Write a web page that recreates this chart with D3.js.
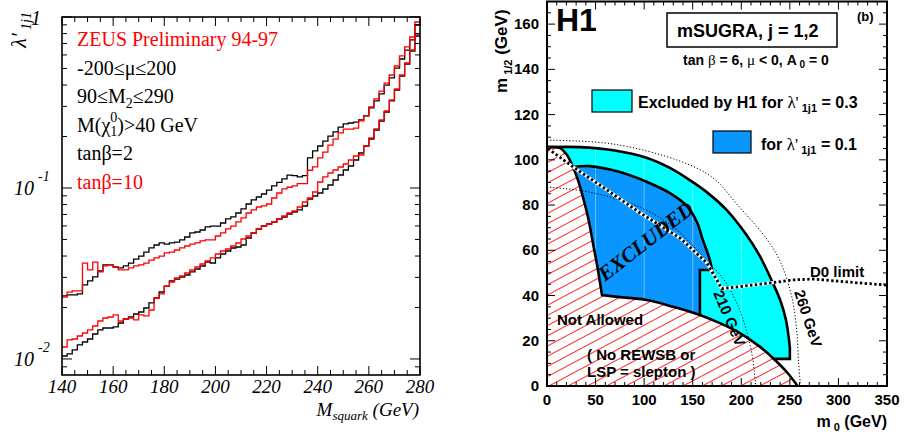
<!DOCTYPE html>
<html><head><meta charset="utf-8">
<script src="https://cdn.jsdelivr.net/npm/d3@7"></script>
<style>body{margin:0;background:#fff}svg{display:block}</style>
</head><body>
<svg id="c" width="904" height="436"></svg>
<script>
// ---------------- DATA: left panel (ZEUS) ----------------
const massBinStart = 140, massBinWidth = 2, massMax = 280;
const xTicksLeft = [140,160,180,200,220,240,260,280];
// lambda'_1j1 upper limits per 2 GeV squark-mass bin
const tb2Upper = [0.0234,0.0237,0.0237,0.0240,0.0271,0.0286,0.0302,0.0327,0.0355,0.0355,
 0.0345,0.0341,0.0350,0.0364,0.0384,0.0400,0.0422,0.0446,0.0464,0.0477,
 0.0470,0.0477,0.0483,0.0497,0.0517,0.0546,0.0553,0.0568,0.0592,0.0599,
 0.0599,0.0624,0.0659,0.0677,0.0714,0.0754,0.0806,0.0851,0.0886,0.0922,
 0.0973,0.103,0.108,0.113,0.119,0.118,0.116,0.118,0.150,0.165,
 0.176,0.188,0.201,0.213,0.227,0.237,0.240,0.243,0.250,0.264,
 0.294,0.323,0.355,0.400,0.440,0.503,0.568,0.641,0.734,0.898];
const tb10Upper = [0.0230,0.0246,0.0250,0.0250,0.0364,0.0332,0.0369,0.0323,0.0350,0.0355,
 0.0345,0.0332,0.0332,0.0341,0.0350,0.0355,0.0364,0.0379,0.0390,0.0400,
 0.0417,0.0422,0.0434,0.0446,0.0458,0.0470,0.0477,0.0490,0.0497,0.0497,
 0.0524,0.0546,0.0576,0.0599,0.0633,0.0668,0.0714,0.0744,0.0774,0.0785,
 0.0806,0.0874,0.0935,0.0987,0.101,0.103,0.106,0.106,0.127,0.133,
 0.150,0.162,0.178,0.193,0.210,0.221,0.221,0.224,0.247,0.264,
 0.298,0.332,0.369,0.411,0.458,0.517,0.592,0.668,0.764,0.935];
const tb2Lower = [0.01041,0.01070,0.01129,0.01208,0.01257,0.01309,0.01400,0.01478,0.01518,0.01518,
 0.01539,0.01624,0.01713,0.01760,0.01833,0.01883,0.01987,0.02126,0.02274,0.02465,
 0.02671,0.02858,0.02937,0.03017,0.03099,0.03228,0.03360,0.03498,0.03692,0.03643,
 0.03897,0.04112,0.04281,0.04458,0.04518,0.04642,0.05100,0.05456,0.05758,0.05995,
 0.06159,0.06326,0.06588,0.06768,0.07047,0.07239,0.07438,0.07848,0.08625,0.08980,
 0.09350,0.09866,0.1041,0.1114,0.1191,0.1274,0.1345,0.1458,0.1602,0.1760,
 0.1934,0.2184,0.2465,0.2783,0.3228,0.3742,0.4518,0.5312,0.6326,0.7743];
const tb10Lower = [0.01175,0.01292,0.01309,0.01363,0.01419,0.01478,0.01559,0.01668,0.01737,0.01760,
 0.01809,0.01668,0.01713,0.01737,0.01691,0.01809,0.01785,0.01934,0.02274,0.02400,
 0.02671,0.02820,0.02976,0.03058,0.03184,0.03315,0.03452,0.03594,0.03742,0.03897,
 0.04112,0.04281,0.04397,0.04580,0.04768,0.05033,0.05240,0.05456,0.05758,0.05995,
 0.06159,0.06326,0.06588,0.06860,0.07143,0.07337,0.07743,0.08283,0.08740,0.09476,
 0.1084,0.1160,0.1224,0.1274,0.1327,0.1381,0.1458,0.1539,0.1559,0.1760,
 0.1961,0.2214,0.2498,0.2820,0.3270,0.3793,0.4578,0.5383,0.6413,0.7954];

// ---------------- DATA: right panel (H1 mSUGRA) [m0, m1/2] ----------------
const xTicksRight = [0,50,100,150,200,250,300,350];
const yTicksRight = [0,20,40,60,80,100,120,140,160];
const notAllowedSteep = [[1,105.6],[13.4,105.2],[20.6,102.1],[26.7,96.8],[31.9,91],[37,83.5],[42.2,74.7],[47.3,63.2],[52.5,51.2],[56.6,40.2]];
const notAllowedLow = [[56.6,40.2],[75,39.3],[102.6,38],[130,35],[157.4,31.4],[178,27.8],[198.6,23.4],[219,17.4],[232.5,12.4],[246.6,6.3],[258,0]];
const excl03Outer = [[1,105.6],[34,105.6],[68,104.2],[103,100.8],[126.5,96.4],[147,91],[165,85.5],[185,77.8],[204,67.6],[219,57.5],[232.5,45.5],[240,38],[246,29.2],[250,17]];
const excl03Edge = [[250,17],[250,12],[233,12]];
const excl01Outer = [[26.7,96.8],[44,97.2],[75,94.6],[103,90.2],[126.5,85.3],[144,79.6],[154.3,72.5],[160.5,64.5],[167.7,55.7],[169.8,51.3]];
const excl01Edge = [[169.8,51.3],[157.4,51.3],[157.4,31.4]];
const squark210 = [[0,88],[44,85.7],[96,79],[130,70.3],[161,57],[181.6,47.3],[195,37],[205,25],[211.5,12.8],[214.6,1.3],[215,0]];
const squark260 = [[0,108.7],[68,107],[137,99.4],[171,92],[195.5,80.4],[227,64.5],[240.7,54.4],[252,39.4],[257,24.8],[259,10.2],[261,0]];
const d0Limit = [[1,105],[27,96.8],[62,86.6],[96,76.5],[137,65.4],[164.6,54.4],[180,43],[229,45.5],[253,46.9],[274,47.3],[309,46],[350,44.6]];

// ---------------- DRAW ----------------
const svg = d3.select('#c');
const serif = "'Liberation Serif','Times New Roman',serif";
const sans = "'Liberation Sans',Arial,Helvetica,sans-serif";

// ===== LEFT PANEL =====
const L = {x0:62, x1:420, y0:17, y1:375};
const xL = d3.scaleLinear().domain([140,280]).range([L.x0,L.x1]);
const yL = d3.scaleLog().domain([0.00806,1]).range([L.y1,L.y0]);
const gL = svg.append('g');

const stepLine = d3.line().x(d=>xL(d[0])).y(d=>yL(d[1])).curve(d3.curveStepAfter);
function binPts(arr){
  const p = arr.map((v,i)=>[massBinStart+i*massBinWidth, v]);
  p.push([massMax, arr[arr.length-1]]);
  return p;
}
[[tb2Upper,'#000'],[tb2Lower,'#000'],[tb10Upper,'#f00'],[tb10Lower,'#f00']].forEach(([a,c])=>{
  gL.append('path').attr('d',stepLine(binPts(a))).attr('fill','none').attr('stroke',c).attr('stroke-width',1.3);
});

// frame + ticks
gL.append('rect').attr('x',L.x0).attr('y',L.y0).attr('width',L.x1-L.x0).attr('height',L.y1-L.y0)
  .attr('fill','none').attr('stroke','#000').attr('stroke-width',1.6);
d3.range(140,281,5).forEach(v=>{
  const major = xTicksLeft.includes(v), len = major?9:5;
  gL.append('line').attr('x1',xL(v)).attr('x2',xL(v)).attr('y1',L.y1).attr('y2',L.y1-len).attr('stroke','#000').attr('stroke-width',1);
  gL.append('line').attr('x1',xL(v)).attr('x2',xL(v)).attr('y1',L.y0).attr('y2',L.y0+len).attr('stroke','#000').attr('stroke-width',1);
});
const yMajL = [0.01,0.1,1];
const yMinL = [];
[0.001,0.01,0.1].forEach(d=>{for(let k=2;k<=9;k++){const v=k*d; if(v>=0.00806&&v<1) yMinL.push(v);}});
yMajL.concat(yMinL).forEach(v=>{
  const len = yMajL.includes(v)?10:5;
  gL.append('line').attr('x1',L.x0).attr('x2',L.x0+len).attr('y1',yL(v)).attr('y2',yL(v)).attr('stroke','#000');
  gL.append('line').attr('x1',L.x1).attr('x2',L.x1-len).attr('y1',yL(v)).attr('y2',yL(v)).attr('stroke','#000');
});
// tick labels
xTicksLeft.forEach(v=>{
  gL.append('text').attr('x',xL(v)).attr('y',393).attr('text-anchor','middle')
   .attr('font-family',serif).attr('font-style','italic').attr('font-size',19).text(v);
});
[[0.1,'-1'],[0.01,'-2']].forEach(([v,e])=>{
  gL.append('text').attr('x',34).attr('y',yL(v)+7).attr('text-anchor','end')
   .attr('font-family',serif).attr('font-style','italic').attr('font-size',20).text('10');
  gL.append('text').attr('x',38).attr('y',yL(v)-7)
   .attr('font-family',serif).attr('font-style','italic').attr('font-size',14).text(e);
});
gL.append('text').attr('x',41).attr('y',yL(1)+8).attr('text-anchor','end')
  .attr('font-family',serif).attr('font-style','italic').attr('font-size',20).text('1');
// axis titles
const yt = gL.append('text').attr('transform','translate(26,12) rotate(-90)').attr('text-anchor','end')
  .attr('font-family',serif).attr('font-style','italic').attr('font-size',22);
yt.append('tspan').text("λ'");
yt.append('tspan').attr('dy',5).attr('font-size',14).text(' 1j1');
const xt = gL.append('text').attr('x',419).attr('y',416).attr('text-anchor','end')
  .attr('font-family',serif).attr('font-style','italic').attr('font-size',19);
xt.append('tspan').text('M');
xt.append('tspan').attr('dy',4).attr('font-size',13).text('squark');
xt.append('tspan').attr('dy',-4).text(' (GeV)');
// legend text
const lt = (y,c)=>gL.append('text').attr('x',77).attr('y',y).attr('fill',c).attr('font-family',serif).attr('font-size',20);
lt(46,'#f00').text('ZEUS Preliminary 94-97');
lt(75,'#000').text('-200≤μ≤200');
const t3 = lt(103,'#000'); t3.append('tspan').text('90≤M'); t3.append('tspan').attr('dy',5).attr('font-size',14).text('2'); t3.append('tspan').attr('dy',-5).text('≤290');
const t4 = lt(132,'#000'); t4.append('tspan').text('M(χ'); t4.append('tspan').attr('dy',-10).attr('font-size',14).text('0');
t4.append('tspan').attr('dx',-7).attr('dy',14).attr('font-size',14).text('1'); t4.append('tspan').attr('dy',-4).text(')>40 GeV');
lt(160,'#000').text('tanβ=2');
lt(189,'#f00').text('tanβ=10');

// ===== RIGHT PANEL =====
const R = {x0:547, x1:887, y0:1.5, y1:386};
const xR = d3.scaleLinear().domain([0,350]).range([R.x0,R.x1]);
const yR = d3.scaleLinear().domain([0,170]).range([R.y1,R.y0]);
const gR = svg.append('g');
const defs = svg.append('defs');
const pat = defs.append('pattern').attr('id','hatch').attr('patternUnits','userSpaceOnUse')
  .attr('width',20).attr('height',9).attr('patternTransform','rotate(-28)');
pat.append('rect').attr('width',20).attr('height',9).attr('fill','#fff');
pat.append('line').attr('x1',0).attr('x2',20).attr('y1',4.5).attr('y2',4.5).attr('stroke','#ff2a2a').attr('stroke-width',1);
defs.append('clipPath').attr('id','clipR').append('rect').attr('x',R.x0).attr('y',R.y0).attr('width',R.x1-R.x0).attr('height',R.y1-R.y0);

const curved = d3.line().x(d=>xR(d[0])).y(d=>yR(d[1])).curve(d3.curveCatmullRom.alpha(0.5));
const straight = d3.line().x(d=>xR(d[0])).y(d=>yR(d[1]));
function joinPath(parts){
  return parts.map((p,i)=>{const s=(p[1]?curved:straight)(p[0]); return i===0?s:'L'+s.slice(1);}).join('');
}
const gc = gR.append('g').attr('clip-path','url(#clipR)');
const cyanPath = joinPath([[excl03Outer,true],[excl03Edge.concat([[233,0],[0,0],[0,105.6],[1,105.6]]),false]])+'Z';
gc.append('path').attr('d',cyanPath).attr('fill','#00ffff');
gc.append('path').attr('d',joinPath([[excl01Outer,true],[excl01Edge.slice(0,2).concat([[157.4,0],[20,0],[20,96.8],[26.7,96.8]]),false]])+'Z')
  .attr('fill','#0a96ff');
// faint grid lines inside excluded regions
defs.append('clipPath').attr('id','clipCyan').append('path').attr('d',cyanPath);
gc.append('g').attr('clip-path','url(#clipCyan)').selectAll('line').data([50,100,150,200,250]).join('line')
  .attr('x1',d=>xR(d)).attr('x2',d=>xR(d)).attr('y1',yR(0)).attr('y2',yR(120)).attr('stroke','rgba(255,255,255,0.4)').attr('stroke-width',1);
// not allowed (hatched)
gc.append('path').attr('d',joinPath([[[[0,0],[0,105.6],[1,105.6]],false],[notAllowedSteep,true],[notAllowedLow,true]])+'Z')
  .attr('fill','url(#hatch)');
// contours
[squark210,squark260].forEach(c=>{
  gc.append('path').attr('d',curved(c)).attr('fill','none').attr('stroke','#000').attr('stroke-width',1).attr('stroke-dasharray','1.2,2');
});
// boundaries
[[[notAllowedSteep,true],[notAllowedLow,true]],[[excl03Outer,true],[excl03Edge,false]],[[excl01Outer,true],[excl01Edge,false]]].forEach(parts=>{
  gc.append('path').attr('d',joinPath(parts)).attr('fill','none').attr('stroke','#000').attr('stroke-width',2.6).attr('stroke-linejoin','miter');
});
// D0 limit
gc.append('path').attr('d',straight(d0Limit)).attr('fill','none').attr('stroke','#fff').attr('stroke-width',3.4);
gc.append('path').attr('d',straight(d0Limit)).attr('fill','none').attr('stroke','#000').attr('stroke-width',2.8).attr('stroke-dasharray','2.4,2.4');

// frame + ticks
gR.append('rect').attr('x',R.x0).attr('y',R.y0).attr('width',R.x1-R.x0).attr('height',R.y1-R.y0)
  .attr('fill','none').attr('stroke','#000').attr('stroke-width',2);
d3.range(0,351,10).forEach(v=>{
  const len = v%50===0?8:4;
  gR.append('line').attr('x1',xR(v)).attr('x2',xR(v)).attr('y1',R.y1).attr('y2',R.y1-len).attr('stroke','#000');
  gR.append('line').attr('x1',xR(v)).attr('x2',xR(v)).attr('y1',R.y0).attr('y2',R.y0+len).attr('stroke','#000');
});
d3.range(0,171,5).forEach(v=>{
  const len = v%20===0?8:4;
  gR.append('line').attr('x1',R.x0).attr('x2',R.x0+len).attr('y1',yR(v)).attr('y2',yR(v)).attr('stroke','#000');
  gR.append('line').attr('x1',R.x1).attr('x2',R.x1-len).attr('y1',yR(v)).attr('y2',yR(v)).attr('stroke','#000');
});
xTicksRight.forEach(v=>{
  gR.append('text').attr('x',xR(v)).attr('y',405).attr('text-anchor','middle')
   .attr('font-family',sans).attr('font-weight','bold').attr('font-size',15).text(v);
});
yTicksRight.forEach(v=>{
  gR.append('text').attr('x',539).attr('y',yR(v)+5).attr('text-anchor','end')
   .attr('font-family',sans).attr('font-weight','bold').attr('font-size',15).text(v);
});
// axis titles
const xrt = gR.append('text').attr('x',887).attr('y',427).attr('text-anchor','end')
  .attr('font-family',sans).attr('font-weight','bold').attr('font-size',16);
xrt.append('tspan').text('m'); xrt.append('tspan').attr('dy',4).attr('font-size',11).text(' 0'); xrt.append('tspan').attr('dy',-4).text(' (GeV)');
const yrt = gR.append('text').attr('transform','translate(507,93) rotate(-90)')
  .attr('font-family',sans).attr('font-weight','bold').attr('font-size',17);
yrt.append('tspan').text('m'); yrt.append('tspan').attr('dy',5).attr('font-size',11).text(' 1/2'); yrt.append('tspan').attr('dy',-5).text(' (GeV)');

// annotations
const bt = (x,y,s,txt)=>gR.append('text').attr('x',x).attr('y',y).attr('font-family',sans).attr('font-weight','bold').attr('font-size',s).text(txt);
bt(556,31,32,'H1');
gR.append('rect').attr('x',667).attr('y',13).attr('width',170).attr('height',34).attr('fill','#fff').attr('stroke','#000').attr('stroke-width',1.5);
bt(677,37,18,'mSUGRA, j = 1,2');
bt(857,21,13,'(b)');
const tanb = gR.append('text').attr('x',683).attr('y',65).attr('font-family',sans).attr('font-weight','bold').attr('font-size',14);
tanb.append('tspan').text('tan ');
tanb.append('tspan').attr('font-family',serif).attr('font-weight','normal').attr('font-size',15).text('β');
tanb.append('tspan').text(' = 6, ');
tanb.append('tspan').attr('font-family',serif).attr('font-weight','normal').attr('font-size',15).text('μ');
tanb.append('tspan').text(' < 0, A');
tanb.append('tspan').attr('dy',3).attr('font-size',10).text(' 0');
tanb.append('tspan').attr('dy',-3).text(' = 0');
// legend
gR.append('rect').attr('x',592).attr('y',90).attr('width',40).attr('height',22).attr('fill','#00ffff').attr('stroke','#000').attr('stroke-width',1.2);
gR.append('rect').attr('x',713).attr('y',131).attr('width',38).attr('height',22).attr('fill','#0a96ff').attr('stroke','#000').attr('stroke-width',1.2);
function legText(x,y,pre,val){
  const t = gR.append('text').attr('x',x).attr('y',y).attr('font-family',sans).attr('font-weight','bold').attr('font-size',16);
  t.append('tspan').text(pre);
  t.append('tspan').attr('font-family',serif).attr('font-weight','normal').attr('font-size',17).text("λ'");
  t.append('tspan').attr('dy',4).attr('font-size',11).text(' 1j1');
  t.append('tspan').attr('dy',-4).text(' = '+val);
}
legText(638,108,'Excluded by H1 for ','0.3');
legText(761,150,'for ','0.1');
// region labels
bt(557,325,15,'Not Allowed');
bt(587,360,15,'( No REWSB or');
bt(587,377,15,'LSP = slepton )');
bt(810,277,15,'D0 limit');
gR.append('text').attr('transform','translate(713,293) rotate(67)').attr('font-family',sans).attr('font-weight','bold').attr('font-size',15).text('210 GeV');
gR.append('text').attr('transform','translate(794,292) rotate(72)').attr('font-family',sans).attr('font-weight','bold').attr('font-size',15).text('260 GeV');
gR.append('text').attr('transform','translate(605,282) rotate(-38)').attr('font-family',serif).attr('font-style','italic').attr('font-weight','bold').attr('font-size',21).text('EXCLUDED');
</script>
</body></html>
